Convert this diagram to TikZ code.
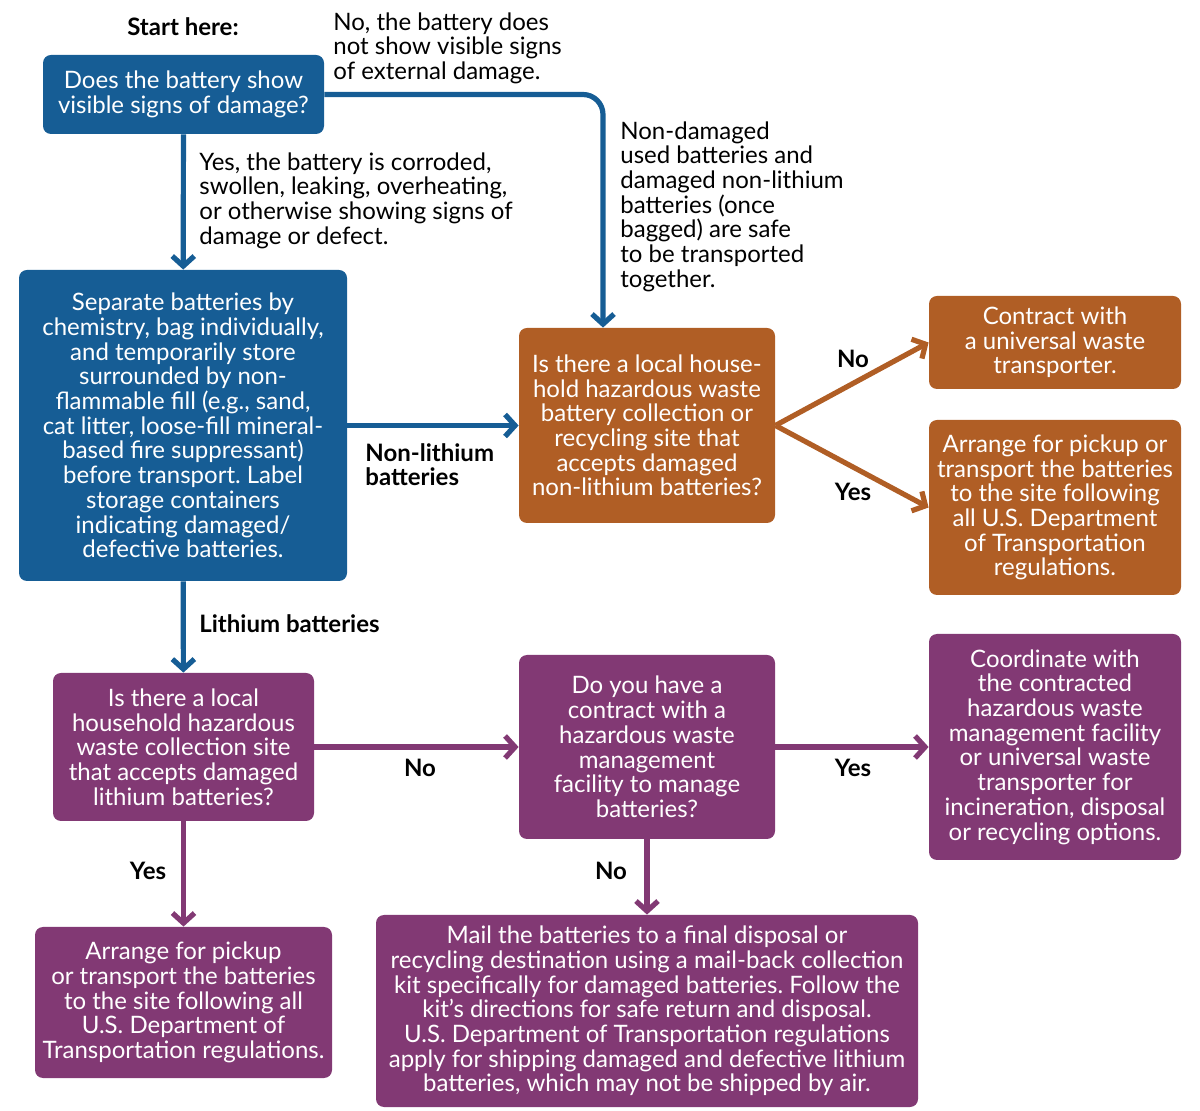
\documentclass[tikz,border=0pt]{standalone}
\usepackage{fontspec}
\setmainfont{Lato}
\usepackage{tikz}
\usetikzlibrary{arrows.meta, positioning}
\definecolor{epablue}{RGB}{22,93,149}
\definecolor{epaorange}{RGB}{176,94,37}
\definecolor{epapurple}{RGB}{130,57,116}
\frenchspacing

\begin{document}
\begin{tikzpicture}[x=0.5pt, y=-0.5pt,
    every node/.style={font=\fontsize{12}{12.35}\selectfont, inner sep=0pt},
    box/.style={rounded corners=4pt, align=center, text=white},
    bbox/.style={box, fill=epablue},
    obox/.style={box, fill=epaorange},
    pbox/.style={box, fill=epapurple},
    note/.style={align=left, anchor=north west},
    tag/.style={font=\fontsize{12}{12.35}\selectfont\bfseries},
    flow/.style={line width=2.6pt, draw=#1, -{Straight Barb[length=5pt,width=11pt]}},
]
    \useasboundingbox (0,0) rectangle (1200,1111);
    % Blue boxes
    \node[bbox, minimum width=140.5pt, minimum height=39.5pt] (damage) at (183.5,94.5)
        {Does the battery show\\visible signs of damage?};
    \node[bbox, minimum width=164pt, minimum height=155.5pt] (separate) at (183,425.5)
        {Separate batteries by\\chemistry, bag individually,\\and temporarily store\\surrounded by non-\\flammable fill (e.g., sand,\\cat litter, loose-fill mineral-\\based fire suppressant)\\before transport. Label\\storage containers\\indicating damaged/\\defective batteries.};
    % Orange boxes
    \node[obox, minimum width=128pt, minimum height=97.5pt] (nonli) at (647,425.5)
        {Is there a local house-\\hold hazardous waste\\battery collection or\\recycling site that\\accepts damaged\\non-lithium batteries?};
    \node[obox, minimum width=126pt, minimum height=46.5pt] (contract) at (1055,342.5)
        {Contract with\\a universal waste\\transporter.};
    \node[obox, minimum width=126pt, minimum height=87.5pt] (pickupo) at (1055,507.5)
        {Arrange for pickup or\\transport the batteries\\to the site following\\all U.S. Department\\of Transportation\\regulations.};
    % Purple boxes
    \node[pbox, minimum width=130.5pt, minimum height=74pt] (lithium) at (183.5,747)
        {Is there a local\\household hazardous\\waste collection site\\that accepts damaged\\lithium batteries?};
    \node[pbox, minimum width=128pt, minimum height=92pt] (hazcon) at (647,747)
        {Do you have a\\contract with a\\hazardous waste\\management\\facility to manage\\batteries?};
    \node[pbox, minimum width=126pt, minimum height=113pt] (coord) at (1055,747)
        {Coordinate with\\the contracted\\hazardous waste\\management facility\\or universal waste\\transporter for\\incineration, disposal\\or recycling options.};
    \node[pbox, minimum width=148.5pt, minimum height=75.5pt] (pickupp) at (183.5,1002.5)
        {Arrange for pickup\\or transport the batteries\\to the site following all\\U.S. Department of\\Transportation regulations.};
    \node[pbox, minimum width=271pt, minimum height=96pt] (mail) at (647,1011)
        {Mail the batteries to a final disposal or\\recycling destination using a mail-back collection\\kit specifically for damaged batteries. Follow the\\kit’s directions for safe return and disposal.\\U.S. Department of Transportation regulations\\apply for shipping damaged and defective lithium\\batteries, which may not be shipped by air.};
    % Notes
    \node[tag, anchor=base] (start) at (183,36) {Start here:};
    \node[note] (nodmg) at (333,12) {No, the battery does\\not show visible signs\\of external damage.};
    \node[note] (yesdmg) at (199,152) {Yes, the battery is corroded,\\swollen, leaking, overheating,\\or otherwise showing signs of\\damage or defect.};
    \node[note] (safe) at (620,121) {Non-damaged\\used batteries and\\damaged non-lithium\\batteries (once\\bagged) are safe\\to be transported\\together.};
    \node[note, tag] (nonlitag) at (365,443) {Non-lithium\\batteries};
    \node[tag, anchor=base west] (litag) at (199,633) {Lithium batteries};
    \node[tag, anchor=base] (no1) at (853,368) {No};
    \node[tag, anchor=base] (yes1) at (853,501) {Yes};
    \node[tag, anchor=base] (no2) at (420,777) {No};
    \node[tag, anchor=base] (yes2) at (853,777) {Yes};
    \node[tag, anchor=base] (yes3) at (148,880) {Yes};
    \node[tag, anchor=base] (no3) at (611,880) {No};
    % Arrows
    \draw[flow=epablue, rounded corners=10pt] (damage.east) -| ([xshift=-22pt]nonli.north);
    \draw[flow=epablue] (damage) -- (separate);
    \draw[flow=epablue] (separate) -- (nonli);
    \draw[flow=epablue] (separate) -- (lithium);
    \draw[flow=epaorange] (nonli.east) -- (contract.west);
    \draw[flow=epaorange] (nonli.east) -- (pickupo.west);
    \draw[flow=epapurple] (lithium) -- (hazcon);
    \draw[flow=epapurple] (hazcon) -- (coord);
    \draw[flow=epapurple] (lithium) -- (pickupp);
    \draw[flow=epapurple] (hazcon) -- (mail);
\end{tikzpicture}
\end{document}
